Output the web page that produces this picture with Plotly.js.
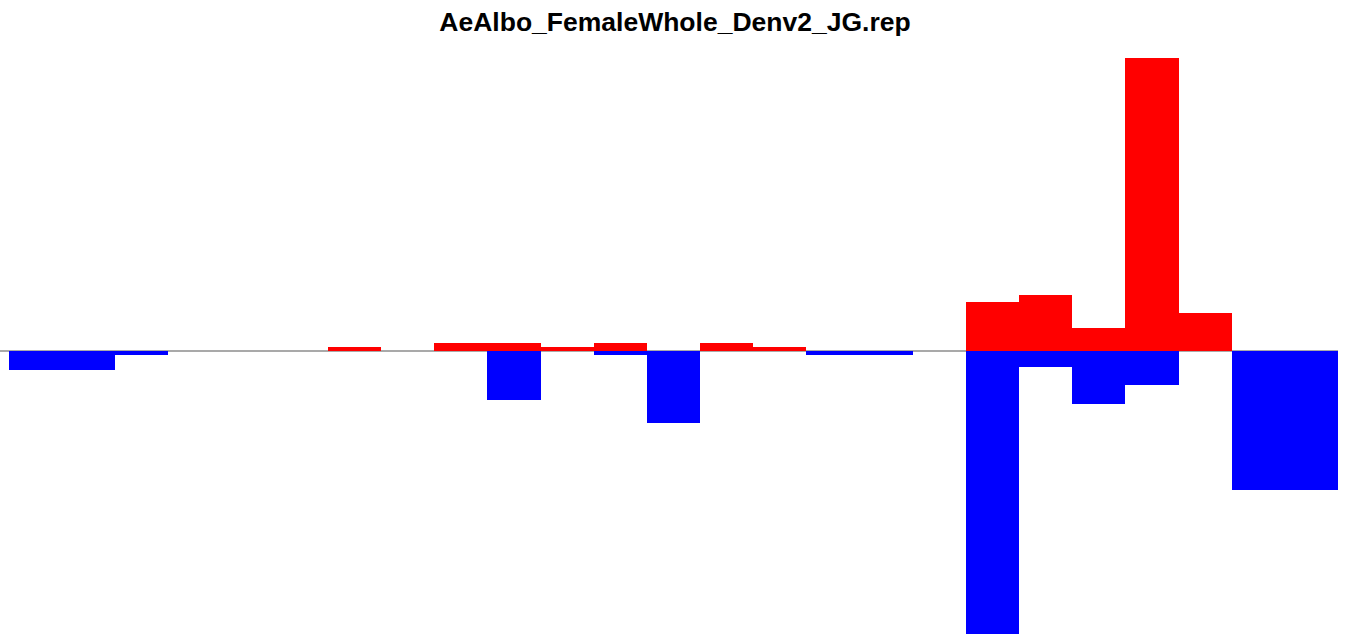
<!DOCTYPE html>
<html>
<head>
<meta charset="utf-8">
<script src="https://cdn.plot.ly/plotly-3.0.1.min.js"></script>
<style>html,body{margin:0;padding:0;background:#fff;}#chart{width:1350px;height:635px;}</style>
</head>
<body>
<div id="chart"></div>
<script>
// 25 bins (index 0..24)
const bins = [0,1,2,3,4,5,6,7,8,9,10,11,12,13,14,15,16,17,18,19,20,21,22,23,24];
// upper (red) values
const upValues = [0,0,0,0,0,0,4,0,8,8,4,8,0,8,4,0,0,0,49,56,23,293,38,0,0];
// lower (blue) values
const downValues = [-19,-19,-4,0,0,0,0,0,0,-49,0,-4,-72,0,0,-4,-4,0,-283,-16,-53,-34,0,-139,-139];
const titleText = "AeAlbo_FemaleWhole_Denv2_JG.rep";

const traces = [
  {type:'bar', x:bins, y:upValues, width:1, marker:{color:'#ff0000', line:{width:0}}, hoverinfo:'x+y'},
  {type:'bar', x:bins, y:downValues, width:1, marker:{color:'#0000ff', line:{width:0}}, hoverinfo:'x+y'}
];

const layout = {
  width:1350, height:635,
  margin:{l:9, r:12, t:50, b:0},
  paper_bgcolor:'#ffffff', plot_bgcolor:'#ffffff',
  showlegend:false,
  barmode:'overlay', bargap:0,
  title:{text:'<b>'+titleText+'</b>', font:{family:'Liberation Sans, Arial, sans-serif', size:26.5, color:'#000'},
         x:0.5, xanchor:'center', y:1-22/635, yref:'container', yanchor:'middle'},
  xaxis:{range:[-0.5,24.5], showgrid:false, zeroline:false, showticklabels:false, ticks:'', showline:false, fixedrange:true},
  yaxis:{range:[-284,301], showgrid:false, zeroline:false, showticklabels:false, ticks:'', showline:false, fixedrange:true},
  shapes:[{type:'line', xref:'paper', yref:'y', x0:-9/1329, x1:1, y0:0, y1:0, line:{color:'#8c8c8c', width:1.5}, layer:'below'}]
};

Plotly.newPlot('chart', traces, layout, {displayModeBar:false, staticPlot:true});
</script>
</body>
</html>
